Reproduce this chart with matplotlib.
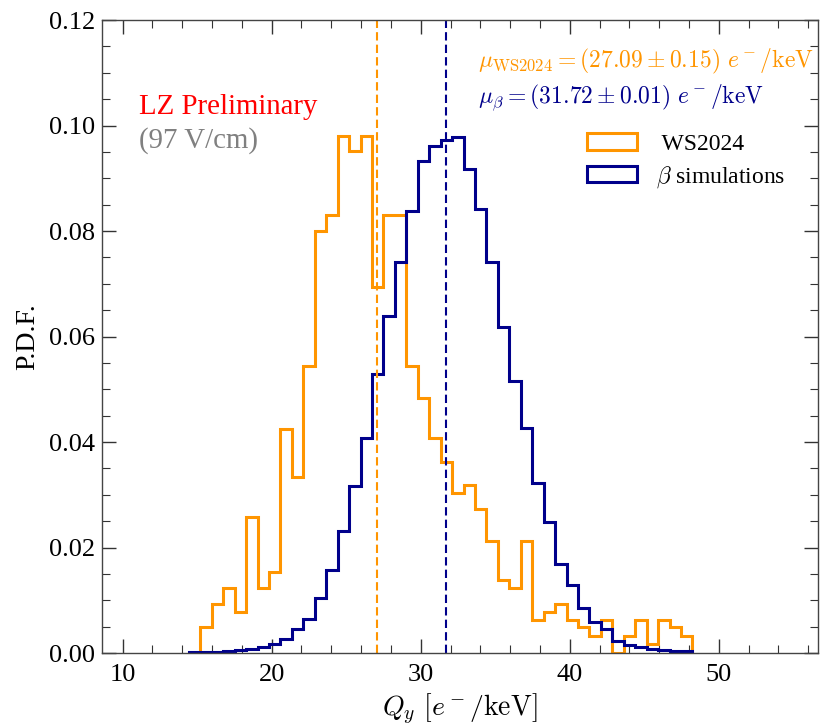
import numpy as np
import matplotlib
matplotlib.use('Agg')
import matplotlib.pyplot as plt
from matplotlib.ticker import MultipleLocator, FormatStrFormatter

plt.rcParams['font.family'] = 'serif'
plt.rcParams['font.serif'] = ['Liberation Serif', 'DejaVu Serif']
plt.rcParams['mathtext.fontset'] = 'cm'

# common binning for both histograms (Q_y in e-/keV)
bin_edges = np.linspace(14.45, 48.23, 45)

# WS2024 data, normalised
ws2024_pdf = [0.0, 0.0049, 0.0093, 0.0124, 0.0078, 0.0258, 0.0124, 0.0153, 0.0424, 0.0334,
              0.0545, 0.0800, 0.0830, 0.0980, 0.0952, 0.0980, 0.0694, 0.0830, 0.0830, 0.0545,
              0.0484, 0.0408, 0.0362, 0.0304, 0.0319, 0.0273, 0.0212, 0.0139, 0.0123, 0.0212,
              0.0063, 0.0077, 0.0093, 0.0063, 0.0049, 0.0033, 0.0063, 0.0, 0.0033, 0.0063,
              0.0017, 0.0063, 0.0049, 0.0033]

# beta simulations, normalised
beta_pdf = [0.0001, 0.0001, 0.0002, 0.0003, 0.0005, 0.0008, 0.0012, 0.0017, 0.0026, 0.0046,
            0.0064, 0.0104, 0.0157, 0.0232, 0.0316, 0.0408, 0.0529, 0.0638, 0.0742, 0.0838,
            0.0933, 0.0961, 0.0973, 0.0978, 0.0917, 0.0841, 0.0741, 0.0618, 0.0515, 0.0427,
            0.0323, 0.0248, 0.0169, 0.0129, 0.0085, 0.0059, 0.0046, 0.0023, 0.0016, 0.0011,
            0.0007, 0.0005, 0.0004, 0.0003]

mu_ws2024 = 27.09
mu_ws2024_err = 0.15
mu_beta = 31.72
mu_beta_err = 0.01

c_ws = '#FF9500'
c_beta = '#00008B'

fig = plt.figure(figsize=(8.25, 7.28), dpi=100)
ax = fig.add_axes([0.1233, 0.103, 0.8682, 0.8695])

centers = 0.5 * (bin_edges[:-1] + bin_edges[1:])
ax.hist(centers, bins=bin_edges, weights=ws2024_pdf, histtype='step',
        color=c_ws, lw=2.2, label=' WS2024')
ax.hist(centers, bins=bin_edges, weights=beta_pdf, histtype='step',
        color=c_beta, lw=2.2, label=r'$\beta$ simulations')

ax.axvline(mu_ws2024, color=c_ws, ls='--', lw=1.5, dashes=(4, 2))
ax.axvline(mu_beta, color=c_beta, ls='--', lw=1.5, dashes=(4, 2))

ax.text(33.85, 0.1122,
        r'$\mu_{\rm WS2024} = (%.2f \pm %.2f)\ e^-/{\rm keV}$' % (mu_ws2024, mu_ws2024_err),
        color=c_ws, fontsize=17, va='center', ha='left')
ax.text(33.85, 0.1052,
        r'$\mu_{\beta} = (%.2f \pm %.2f)\ e^-/{\rm keV}$' % (mu_beta, mu_beta_err),
        color=c_beta, fontsize=17, va='center', ha='left')

ax.text(11.1, 0.1035, 'LZ Preliminary', color='red', fontsize=20.8, va='center', ha='left')
ax.text(11.1, 0.0972, '(97 V/cm)', color='grey', fontsize=20.8, va='center', ha='left')

leg = ax.legend(loc='upper left', bbox_to_anchor=(0.648, 0.855), frameon=False,
                fontsize=17, handlelength=2.1, handletextpad=0.8, labelspacing=0.4)

ax.set_xlim(8.6, 56.65)
ax.set_ylim(0, 0.12)
ax.set_xlabel(r'$Q_y\ [e^-/{\rm keV}]$', fontsize=20, labelpad=4)
ax.set_ylabel('P.D.F.', fontsize=20, labelpad=6)

ax.xaxis.set_major_locator(MultipleLocator(10))
ax.xaxis.set_minor_locator(MultipleLocator(2))
ax.yaxis.set_major_locator(MultipleLocator(0.02))
ax.yaxis.set_minor_locator(MultipleLocator(0.005))
ax.yaxis.set_major_formatter(FormatStrFormatter('%.2f'))
ax.tick_params(which='both', direction='in', top=True, right=True, colors='#333333',
               labelcolor='black', labelsize=19)
ax.tick_params(which='major', length=10, width=1.0, pad=8)
ax.tick_params(axis='y', which='major', pad=5)
ax.tick_params(which='minor', length=5.5, width=0.8)
for s in ax.spines.values():
    s.set_color('#444444')
    s.set_linewidth(1.0)

fig.savefig('out.png', dpi=100)
